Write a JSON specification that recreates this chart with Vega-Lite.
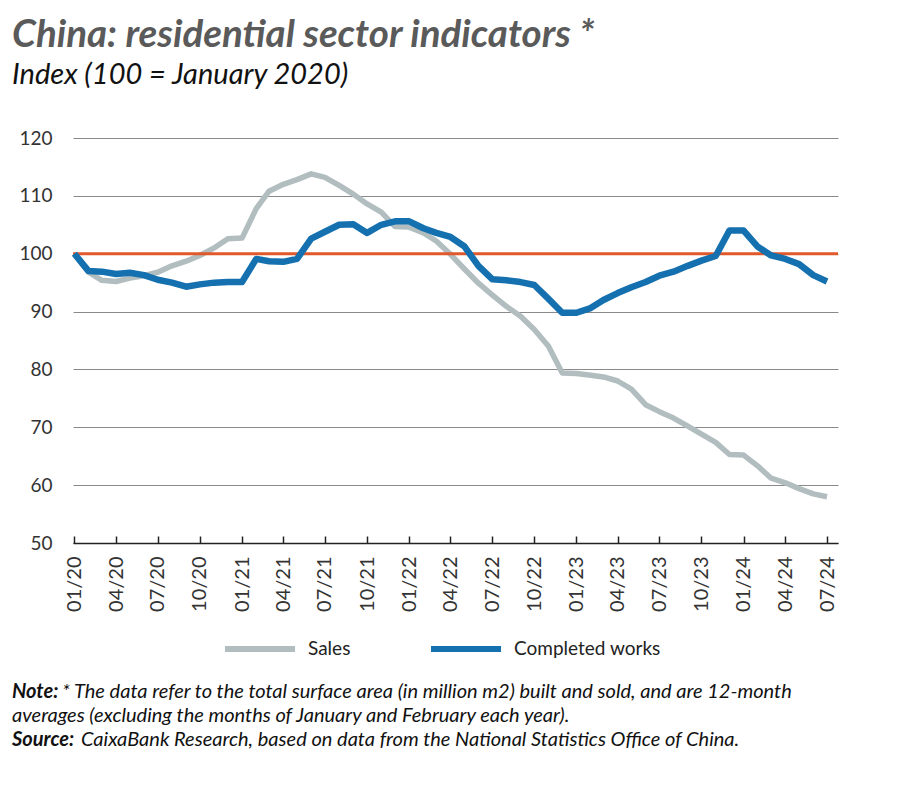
{
  "$schema": "https://vega.github.io/schema/vega-lite/v6.json",
  "background": "white",
  "padding": {"left": 12, "top": 15, "right": 10, "bottom": 5},
  "spacing": 19,
  "config": {"font": "Lato", "view": {"stroke": null}},
  "resolve": {"scale": {"color": "independent"}, "legend": {"color": "independent"}},
  "title": {
    "text": "China: residential sector indicators *",
    "subtitle": "Index (100 = January 2020)",
    "anchor": "start",
    "frame": "bounds",
    "font": "Lato",
    "fontSize": 38.5,
    "fontWeight": "bold",
    "fontStyle": "italic",
    "color": "#5a5a5a",
    "subtitleFont": "Lato",
    "subtitleFontSize": 29,
    "subtitleFontStyle": "italic",
    "subtitleColor": "#111111",
    "subtitlePadding": 6,
    "offset": 38
  },
  "vconcat": [
    {
      "width": 765,
      "height": 405,
      "data": {
        "values": [
          {"date": "2020/01/01", "series": "Sales", "value": 100.0},
          {"date": "2020/02/01", "series": "Sales", "value": 96.8},
          {"date": "2020/03/01", "series": "Sales", "value": 95.4},
          {"date": "2020/04/01", "series": "Sales", "value": 95.2},
          {"date": "2020/05/01", "series": "Sales", "value": 95.8},
          {"date": "2020/06/01", "series": "Sales", "value": 96.2},
          {"date": "2020/07/01", "series": "Sales", "value": 96.8},
          {"date": "2020/08/01", "series": "Sales", "value": 97.9},
          {"date": "2020/09/01", "series": "Sales", "value": 98.7},
          {"date": "2020/10/01", "series": "Sales", "value": 99.7},
          {"date": "2020/11/01", "series": "Sales", "value": 101.0},
          {"date": "2020/12/01", "series": "Sales", "value": 102.6},
          {"date": "2021/01/01", "series": "Sales", "value": 102.7},
          {"date": "2021/02/01", "series": "Sales", "value": 107.8},
          {"date": "2021/03/01", "series": "Sales", "value": 110.8},
          {"date": "2021/04/01", "series": "Sales", "value": 112.0},
          {"date": "2021/05/01", "series": "Sales", "value": 112.8},
          {"date": "2021/06/01", "series": "Sales", "value": 113.8},
          {"date": "2021/07/01", "series": "Sales", "value": 113.2},
          {"date": "2021/08/01", "series": "Sales", "value": 111.8},
          {"date": "2021/09/01", "series": "Sales", "value": 110.3},
          {"date": "2021/10/01", "series": "Sales", "value": 108.6},
          {"date": "2021/11/01", "series": "Sales", "value": 107.2},
          {"date": "2021/12/01", "series": "Sales", "value": 104.7},
          {"date": "2022/01/01", "series": "Sales", "value": 104.6},
          {"date": "2022/02/01", "series": "Sales", "value": 103.6},
          {"date": "2022/03/01", "series": "Sales", "value": 102.2},
          {"date": "2022/04/01", "series": "Sales", "value": 99.9},
          {"date": "2022/05/01", "series": "Sales", "value": 97.4},
          {"date": "2022/06/01", "series": "Sales", "value": 94.9},
          {"date": "2022/07/01", "series": "Sales", "value": 92.9},
          {"date": "2022/08/01", "series": "Sales", "value": 90.9},
          {"date": "2022/09/01", "series": "Sales", "value": 89.2},
          {"date": "2022/10/01", "series": "Sales", "value": 86.9},
          {"date": "2022/11/01", "series": "Sales", "value": 84.0},
          {"date": "2022/12/01", "series": "Sales", "value": 79.4},
          {"date": "2023/01/01", "series": "Sales", "value": 79.3},
          {"date": "2023/02/01", "series": "Sales", "value": 79.0},
          {"date": "2023/03/01", "series": "Sales", "value": 78.7},
          {"date": "2023/04/01", "series": "Sales", "value": 78.0},
          {"date": "2023/05/01", "series": "Sales", "value": 76.6},
          {"date": "2023/06/01", "series": "Sales", "value": 73.9},
          {"date": "2023/07/01", "series": "Sales", "value": 72.7},
          {"date": "2023/08/01", "series": "Sales", "value": 71.6},
          {"date": "2023/09/01", "series": "Sales", "value": 70.2},
          {"date": "2023/10/01", "series": "Sales", "value": 68.8},
          {"date": "2023/11/01", "series": "Sales", "value": 67.4},
          {"date": "2023/12/01", "series": "Sales", "value": 65.3},
          {"date": "2024/01/01", "series": "Sales", "value": 65.2},
          {"date": "2024/02/01", "series": "Sales", "value": 63.3},
          {"date": "2024/03/01", "series": "Sales", "value": 61.2},
          {"date": "2024/04/01", "series": "Sales", "value": 60.4},
          {"date": "2024/05/01", "series": "Sales", "value": 59.4},
          {"date": "2024/06/01", "series": "Sales", "value": 58.5},
          {"date": "2024/07/01", "series": "Sales", "value": 58.0},
          {"date": "2020/01/01", "series": "Completed works", "value": 100.0},
          {"date": "2020/02/01", "series": "Completed works", "value": 97.0},
          {"date": "2020/03/01", "series": "Completed works", "value": 96.9},
          {"date": "2020/04/01", "series": "Completed works", "value": 96.5},
          {"date": "2020/05/01", "series": "Completed works", "value": 96.7},
          {"date": "2020/06/01", "series": "Completed works", "value": 96.3},
          {"date": "2020/07/01", "series": "Completed works", "value": 95.5},
          {"date": "2020/08/01", "series": "Completed works", "value": 95.0},
          {"date": "2020/09/01", "series": "Completed works", "value": 94.3},
          {"date": "2020/10/01", "series": "Completed works", "value": 94.7},
          {"date": "2020/11/01", "series": "Completed works", "value": 95.0},
          {"date": "2020/12/01", "series": "Completed works", "value": 95.1},
          {"date": "2021/01/01", "series": "Completed works", "value": 95.1},
          {"date": "2021/02/01", "series": "Completed works", "value": 99.1},
          {"date": "2021/03/01", "series": "Completed works", "value": 98.7},
          {"date": "2021/04/01", "series": "Completed works", "value": 98.6},
          {"date": "2021/05/01", "series": "Completed works", "value": 99.1},
          {"date": "2021/06/01", "series": "Completed works", "value": 102.6},
          {"date": "2021/07/01", "series": "Completed works", "value": 103.8},
          {"date": "2021/08/01", "series": "Completed works", "value": 105.0},
          {"date": "2021/09/01", "series": "Completed works", "value": 105.1},
          {"date": "2021/10/01", "series": "Completed works", "value": 103.6},
          {"date": "2021/11/01", "series": "Completed works", "value": 105.0},
          {"date": "2021/12/01", "series": "Completed works", "value": 105.6},
          {"date": "2022/01/01", "series": "Completed works", "value": 105.6},
          {"date": "2022/02/01", "series": "Completed works", "value": 104.4},
          {"date": "2022/03/01", "series": "Completed works", "value": 103.6},
          {"date": "2022/04/01", "series": "Completed works", "value": 102.9},
          {"date": "2022/05/01", "series": "Completed works", "value": 101.3},
          {"date": "2022/06/01", "series": "Completed works", "value": 97.9},
          {"date": "2022/07/01", "series": "Completed works", "value": 95.6},
          {"date": "2022/08/01", "series": "Completed works", "value": 95.4},
          {"date": "2022/09/01", "series": "Completed works", "value": 95.1},
          {"date": "2022/10/01", "series": "Completed works", "value": 94.6},
          {"date": "2022/11/01", "series": "Completed works", "value": 92.2},
          {"date": "2022/12/01", "series": "Completed works", "value": 89.8},
          {"date": "2023/01/01", "series": "Completed works", "value": 89.8},
          {"date": "2023/02/01", "series": "Completed works", "value": 90.6},
          {"date": "2023/03/01", "series": "Completed works", "value": 92.0},
          {"date": "2023/04/01", "series": "Completed works", "value": 93.2},
          {"date": "2023/05/01", "series": "Completed works", "value": 94.2},
          {"date": "2023/06/01", "series": "Completed works", "value": 95.1},
          {"date": "2023/07/01", "series": "Completed works", "value": 96.2},
          {"date": "2023/08/01", "series": "Completed works", "value": 96.9},
          {"date": "2023/09/01", "series": "Completed works", "value": 97.9},
          {"date": "2023/10/01", "series": "Completed works", "value": 98.8},
          {"date": "2023/11/01", "series": "Completed works", "value": 99.6},
          {"date": "2023/12/01", "series": "Completed works", "value": 104.0},
          {"date": "2024/01/01", "series": "Completed works", "value": 104.0},
          {"date": "2024/02/01", "series": "Completed works", "value": 101.2},
          {"date": "2024/03/01", "series": "Completed works", "value": 99.7},
          {"date": "2024/04/01", "series": "Completed works", "value": 99.1},
          {"date": "2024/05/01", "series": "Completed works", "value": 98.2},
          {"date": "2024/06/01", "series": "Completed works", "value": 96.3},
          {"date": "2024/07/01", "series": "Completed works", "value": 95.2}
        ]
      },
      "layer": [
        {
          "transform": [{"filter": "datum.series === 'Sales'"}],
          "mark": {"type": "line", "strokeWidth": 5.5, "strokeJoin": "round"},
          "encoding": {
            "x": {
              "field": "date",
              "type": "temporal",
              "scale": {"domain": [{"year": 2019, "month": 12, "date": 29}, {"year": 2024, "month": 7, "date": 25}]},
              "axis": {
                "title": null,
                "format": "%m/%y",
                "tickCount": {"interval": "month", "step": 3},
                "labelAngle": -90,
                "labelFontSize": 20,
                "labelColor": "#333333",
                "labelPadding": 20,
                "labelFlush": false,
                "labelOverlap": false,
                "grid": false,
                "domainColor": "#222222",
                "domainWidth": 1.5,
                "tickColor": "#222222",
                "tickWidth": 1.5,
                "tickSize": -7
              }
            },
            "y": {
              "field": "value",
              "type": "quantitative",
              "scale": {"domain": [50, 120]},
              "axis": {
                "title": null,
                "values": [50, 60, 70, 80, 90, 100, 110, 120],
                "grid": true,
                "gridColor": "#8a8a8a",
                "gridWidth": 1,
                "domain": false,
                "ticks": false,
                "labelFontSize": 19,
                "labelColor": "#333333",
                "labelPadding": 21,
                "minExtent": 61,
                "maxExtent": 61
              }
            },
            "color": {
              "field": "series",
              "type": "nominal",
              "scale": {"domain": ["Sales", "Completed works"], "range": ["#b2bdc0", "#1570b0"]},
              "legend": {
                "orient": "none",
                "legendX": 149,
                "legendY": 473,
                "direction": "horizontal",
                "title": null,
                "symbolType": "stroke",
                "symbolSize": 4900,
                "symbolStrokeWidth": 6,
                "labelFontSize": 19,
                "labelColor": "#222222",
                "labelOffset": 10,
                "columnPadding": 68
              }
            }
          }
        },
        {
          "data": {"values": [{}]},
          "mark": {"type": "rule", "color": "#e1582b", "strokeWidth": 3},
          "encoding": {"y": {"datum": 100}}
        },
        {
          "transform": [{"filter": "datum.series === 'Completed works'"}],
          "mark": {"type": "line", "strokeWidth": 6.5, "strokeJoin": "round"},
          "encoding": {
            "x": {"field": "date", "type": "temporal"},
            "y": {"field": "value", "type": "quantitative"},
            "color": {"field": "series", "type": "nominal"}
          }
        }
      ]
    },
    {
      "width": 765,
      "height": 72,
      "data": {
        "values": [
          {"line": 1, "lead": "Note:", "text": "* The data refer to the total surface area (in million m2) built and sold, and are 12-month"},
          {"line": 2, "lead": "", "text": "averages (excluding the months of January and February each year)."},
          {"line": 3, "lead": "Source:", "text": "CaixaBank Research, based on data from the National Statistics Office of China."}
        ]
      },
      "encoding": {
        "y": {"field": "line", "type": "ordinal", "axis": null, "scale": {"type": "point", "padding": 0.5}}
      },
      "layer": [
        {
          "mark": {"type": "text", "align": "left", "baseline": "middle", "fontSize": 20, "fontWeight": "bold", "fontStyle": "italic", "color": "#111111"},
          "encoding": {"text": {"field": "lead"}, "x": {"value": -61}}
        },
        {
          "transform": [{"filter": "datum.line === 1"}],
          "mark": {"type": "text", "align": "left", "baseline": "middle", "fontSize": 20, "fontStyle": "italic", "color": "#111111"},
          "encoding": {"text": {"field": "text"}, "x": {"value": -11}}
        },
        {
          "transform": [{"filter": "datum.line === 2"}],
          "mark": {"type": "text", "align": "left", "baseline": "middle", "fontSize": 20, "fontStyle": "italic", "color": "#111111"},
          "encoding": {"text": {"field": "text"}, "x": {"value": -61}}
        },
        {
          "transform": [{"filter": "datum.line === 3"}],
          "mark": {"type": "text", "align": "left", "baseline": "middle", "fontSize": 20, "fontStyle": "italic", "color": "#111111"},
          "encoding": {"text": {"field": "text"}, "x": {"value": 8}}
        }
      ]
    }
  ]
}
